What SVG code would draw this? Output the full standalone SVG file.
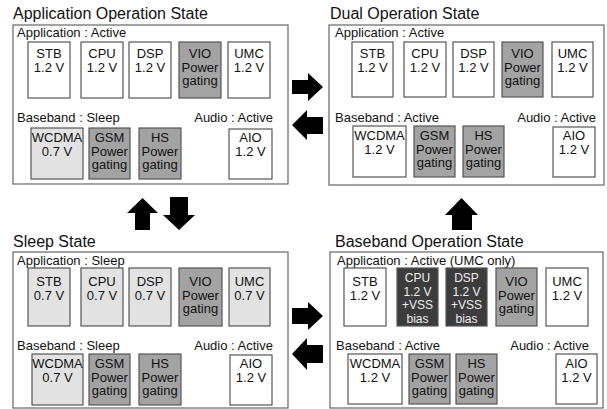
<svg xmlns="http://www.w3.org/2000/svg" width="607" height="409" viewBox="0 0 607 409">
<style>
text{font-family:"Liberation Sans",Arial,sans-serif;fill:#111}
.title{font-size:16px}
.lbl{font-size:13px}
.nt{font-size:13px;text-anchor:middle}
.ntw{font-size:12px;text-anchor:middle;fill:#eee}
.end{text-anchor:end}
.panel{fill:#fff;stroke:#666;stroke-width:1.2}
.w{fill:#fff;stroke:#555;stroke-width:1.2}
.lg{fill:#e2e2e2;stroke:#555;stroke-width:1.2}
.pg{fill:#a3a3a3;stroke:#555;stroke-width:1.2}
.dk{fill:#3c3c3c;stroke:#555;stroke-width:1.2}
.arr{fill:#000}
</style>

<!-- Application Operation State -->
<g id="state-app">
<text class="title" x="13" y="19">Application Operation State</text>
<rect class="panel" x="13" y="25" width="275" height="159"/>
<text class="lbl" x="17" y="37">Application : Active</text>
<text class="lbl" x="17" y="122">Baseband : Sleep</text>
<text class="lbl end" x="273" y="122">Audio : Active</text>
</g>
<g id="app-stb"><rect class="w" x="28" y="42" width="42" height="56"/><text class="nt" x="49" y="58">STB</text><text class="nt" x="49" y="71.5">1.2 V</text></g>
<g id="app-cpu"><rect class="w" x="81" y="42" width="42" height="56"/><text class="nt" x="102" y="58">CPU</text><text class="nt" x="102" y="71.5">1.2 V</text></g>
<g id="app-dsp"><rect class="w" x="129" y="42" width="42" height="56"/><text class="nt" x="150" y="58">DSP</text><text class="nt" x="150" y="71.5">1.2 V</text></g>
<g id="app-vio"><rect class="pg" x="179" y="42" width="42" height="56"/><text class="nt" x="200" y="58">VIO</text><text class="nt" x="200" y="71.5">Power</text><text class="nt" x="200" y="85">gating</text></g>
<g id="app-umc"><rect class="w" x="228" y="42" width="42" height="56"/><text class="nt" x="249" y="58">UMC</text><text class="nt" x="249" y="71.5">1.2 V</text></g>
<g id="app-wcdma"><rect class="lg" x="31" y="128" width="52" height="51"/><text class="nt" x="57" y="142">WCDMA</text><text class="nt" x="57" y="155.5">0.7 V</text></g>
<g id="app-gsm"><rect class="pg" x="89" y="128" width="41" height="51"/><text class="nt" x="109.5" y="142">GSM</text><text class="nt" x="109.5" y="155.5">Power</text><text class="nt" x="109.5" y="169">gating</text></g>
<g id="app-hs"><rect class="pg" x="139" y="128" width="42" height="51"/><text class="nt" x="160" y="142">HS</text><text class="nt" x="160" y="155.5">Power</text><text class="nt" x="160" y="169">gating</text></g>
<g id="app-aio"><rect class="w" x="229" y="129" width="43" height="50"/><text class="nt" x="250.5" y="142">AIO</text><text class="nt" x="250.5" y="155.5">1.2 V</text></g>

<!-- Dual Operation State -->
<g id="state-dual">
<text class="title" x="330" y="19">Dual Operation State</text>
<rect class="panel" x="329" y="25" width="275" height="160"/>
<text class="lbl" x="335" y="37">Application : Active</text>
<text class="lbl" x="335" y="122">Baseband : Active</text>
<text class="lbl end" x="596" y="122">Audio : Active</text>
</g>
<g id="dual-stb"><rect class="w" x="352" y="42" width="41" height="55"/><text class="nt" x="372.5" y="58">STB</text><text class="nt" x="372.5" y="71.5">1.2 V</text></g>
<g id="dual-cpu"><rect class="w" x="404" y="42" width="42" height="55"/><text class="nt" x="425" y="58">CPU</text><text class="nt" x="425" y="71.5">1.2 V</text></g>
<g id="dual-dsp"><rect class="w" x="453" y="42" width="41" height="55"/><text class="nt" x="473.5" y="58">DSP</text><text class="nt" x="473.5" y="71.5">1.2 V</text></g>
<g id="dual-vio"><rect class="pg" x="502" y="42" width="41" height="55"/><text class="nt" x="522.5" y="58">VIO</text><text class="nt" x="522.5" y="71.5">Power</text><text class="nt" x="522.5" y="85">gating</text></g>
<g id="dual-umc"><rect class="w" x="552" y="42" width="41" height="55"/><text class="nt" x="572.5" y="58">UMC</text><text class="nt" x="572.5" y="71.5">1.2 V</text></g>
<g id="dual-wcdma"><rect class="w" x="353" y="126" width="53" height="51"/><text class="nt" x="379.5" y="140">WCDMA</text><text class="nt" x="379.5" y="153.5">1.2 V</text></g>
<g id="dual-gsm"><rect class="pg" x="414" y="126" width="41" height="51"/><text class="nt" x="434.5" y="140">GSM</text><text class="nt" x="434.5" y="153.5">Power</text><text class="nt" x="434.5" y="167">gating</text></g>
<g id="dual-hs"><rect class="pg" x="463" y="126" width="41" height="51"/><text class="nt" x="483.5" y="140">HS</text><text class="nt" x="483.5" y="153.5">Power</text><text class="nt" x="483.5" y="167">gating</text></g>
<g id="dual-aio"><rect class="w" x="553" y="127" width="42" height="50"/><text class="nt" x="574" y="140">AIO</text><text class="nt" x="574" y="153.5">1.2 V</text></g>

<!-- Sleep State -->
<g id="state-sleep">
<text class="title" x="13" y="247">Sleep State</text>
<rect class="panel" x="13" y="252" width="275" height="156"/>
<text class="lbl" x="17" y="265">Application : Sleep</text>
<text class="lbl" x="17" y="350">Baseband : Sleep</text>
<text class="lbl end" x="273" y="350">Audio : Active</text>
</g>
<g id="sleep-stb"><rect class="lg" x="28" y="268" width="42" height="58"/><text class="nt" x="49" y="286">STB</text><text class="nt" x="49" y="299.5">0.7 V</text></g>
<g id="sleep-cpu"><rect class="lg" x="81" y="268" width="42" height="58"/><text class="nt" x="102" y="286">CPU</text><text class="nt" x="102" y="299.5">0.7 V</text></g>
<g id="sleep-dsp"><rect class="lg" x="129" y="268" width="42" height="58"/><text class="nt" x="150" y="286">DSP</text><text class="nt" x="150" y="299.5">0.7 V</text></g>
<g id="sleep-vio"><rect class="pg" x="179" y="268" width="43" height="58"/><text class="nt" x="200.5" y="286">VIO</text><text class="nt" x="200.5" y="299.5">Power</text><text class="nt" x="200.5" y="313">gating</text></g>
<g id="sleep-umc"><rect class="lg" x="229" y="268" width="41" height="58"/><text class="nt" x="249.5" y="286">UMC</text><text class="nt" x="249.5" y="299.5">0.7 V</text></g>
<g id="sleep-wcdma"><rect class="lg" x="32" y="354" width="51" height="51"/><text class="nt" x="57.5" y="368">WCDMA</text><text class="nt" x="57.5" y="381.5">0.7 V</text></g>
<g id="sleep-gsm"><rect class="pg" x="89" y="354" width="41" height="51"/><text class="nt" x="109.5" y="368">GSM</text><text class="nt" x="109.5" y="381.5">Power</text><text class="nt" x="109.5" y="395">gating</text></g>
<g id="sleep-hs"><rect class="pg" x="139" y="354" width="42" height="51"/><text class="nt" x="160" y="368">HS</text><text class="nt" x="160" y="381.5">Power</text><text class="nt" x="160" y="395">gating</text></g>
<g id="sleep-aio"><rect class="w" x="230" y="355" width="42" height="50"/><text class="nt" x="251" y="368">AIO</text><text class="nt" x="251" y="381.5">1.2 V</text></g>

<!-- Baseband Operation State -->
<g id="state-baseband">
<text class="title" x="335" y="247">Baseband Operation State</text>
<rect class="panel" x="330" y="252" width="273" height="156"/>
<text class="lbl" x="337" y="265">Application : Active (UMC only)</text>
<text class="lbl" x="336" y="350">Baseband : Active</text>
<text class="lbl end" x="589" y="350">Audio : Active</text>
</g>
<g id="bb-stb"><rect class="w" x="344" y="268" width="42" height="58"/><text class="nt" x="365" y="286">STB</text><text class="nt" x="365" y="299.5">1.2 V</text></g>
<g id="bb-cpu"><rect class="dk" x="397" y="268" width="41" height="58"/><text class="ntw" x="417.5" y="282">CPU</text><text class="ntw" x="417.5" y="295.5">1.2 V</text><text class="ntw" x="417.5" y="309">+VSS</text><text class="ntw" x="417.5" y="322.5">bias</text></g>
<g id="bb-dsp"><rect class="dk" x="446" y="268" width="41" height="58"/><text class="ntw" x="466.5" y="282">DSP</text><text class="ntw" x="466.5" y="295.5">1.2 V</text><text class="ntw" x="466.5" y="309">+VSS</text><text class="ntw" x="466.5" y="322.5">bias</text></g>
<g id="bb-vio"><rect class="pg" x="496" y="268" width="41" height="58"/><text class="nt" x="516.5" y="286">VIO</text><text class="nt" x="516.5" y="299.5">Power</text><text class="nt" x="516.5" y="313">gating</text></g>
<g id="bb-umc"><rect class="w" x="546" y="268" width="42" height="58"/><text class="nt" x="567" y="286">UMC</text><text class="nt" x="567" y="299.5">1.2 V</text></g>
<g id="bb-wcdma"><rect class="w" x="348" y="354" width="54" height="50"/><text class="nt" x="375" y="368">WCDMA</text><text class="nt" x="375" y="381.5">1.2 V</text></g>
<g id="bb-gsm"><rect class="pg" x="409" y="354" width="41" height="50"/><text class="nt" x="429.5" y="368">GSM</text><text class="nt" x="429.5" y="381.5">Power</text><text class="nt" x="429.5" y="395">gating</text></g>
<g id="bb-hs"><rect class="pg" x="456" y="354" width="41" height="50"/><text class="nt" x="476.5" y="368">HS</text><text class="nt" x="476.5" y="381.5">Power</text><text class="nt" x="476.5" y="395">gating</text></g>
<g id="bb-aio"><rect class="w" x="556" y="354" width="41" height="50"/><text class="nt" x="576.5" y="368">AIO</text><text class="nt" x="576.5" y="381.5">1.2 V</text></g>

<!-- connectors -->
<g id="connectors">
<polygon class="arr" points="292,80 308,80 308,73 323,87 308,101 308,94 292,94"/>
<polygon class="arr" points="323,117 307,117 307,110 292,125 307,140 307,134 323,134"/>
<polygon class="arr" points="292,308 308,308 308,302 323,316 308,330 308,324 292,324"/>
<polygon class="arr" points="323,345 307,345 307,338 292,354 307,370 307,363 323,363"/>
<polygon class="arr" points="142.5,198 158,213 150,213 150,230 135,230 135,213 127,213"/>
<polygon class="arr" points="170,197 188,197 188,215 195,215 179,230 163,215 170,215"/>
<polygon class="arr" points="461.5,198 478,215 472,215 472,230 452,230 452,215 445,215"/>
</g>
</svg>
